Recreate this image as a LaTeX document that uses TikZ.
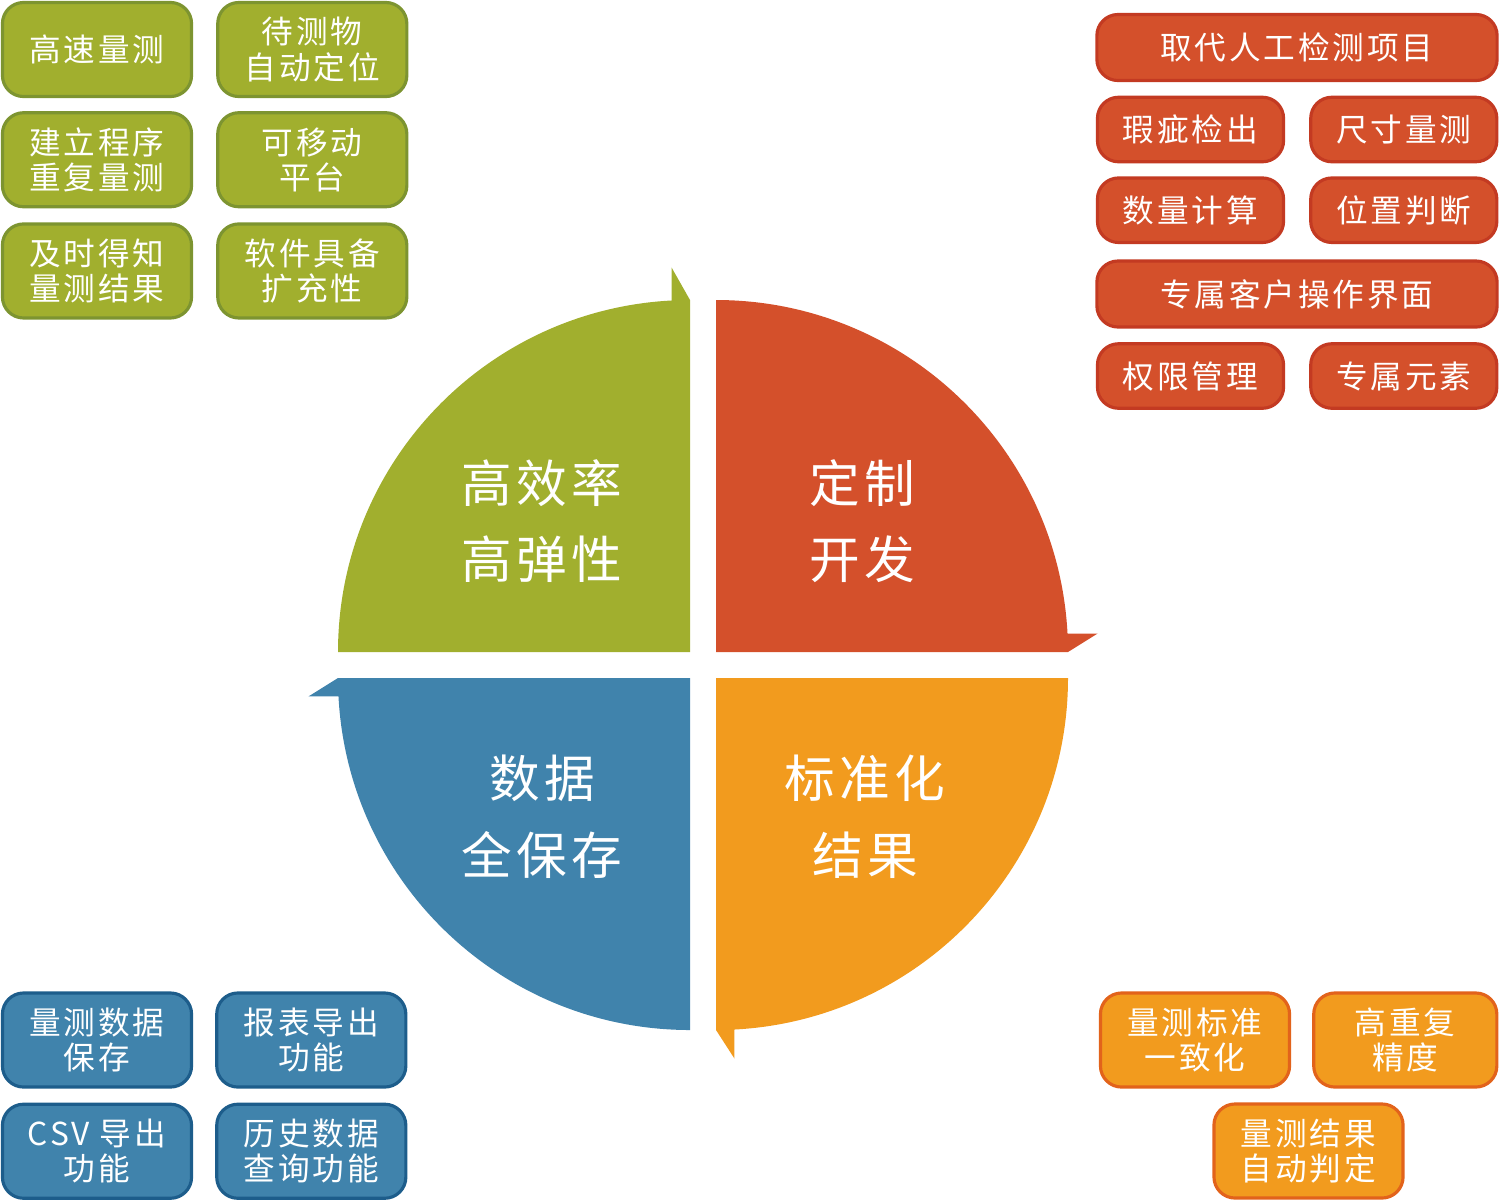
\documentclass[tikz,border=0pt]{standalone}
\usepackage{fontspec}
\setmainfont{Noto Sans CJK SC}[LetterSpace=9]
\usetikzlibrary{positioning}

\definecolor{qgreen}{HTML}{A1AF2E}
\definecolor{qgreenline}{HTML}{7D9430}
\definecolor{qred}{HTML}{D4502B}
\definecolor{qredline}{HTML}{C33A22}
\definecolor{qblue}{HTML}{4083AC}
\definecolor{qblueline}{HTML}{1D5D8B}
\definecolor{qorange}{HTML}{F29B1E}
\definecolor{qorangeline}{HTML}{E2631B}

\begin{document}
\begin{tikzpicture}[x=0.01cm, y=-0.01cm,
    box/.style={draw, line width=0.9pt, rounded corners=6pt, text=white, align=center,
      inner sep=0pt, minimum width=1.89cm, minimum height=0.94cm, font=\fontsize{9}{10}\selectfont},
    gbox/.style={box, fill=qgreen, draw=qgreenline},
    rbox/.style={box, fill=qred, draw=qredline, minimum width=1.86cm, minimum height=0.645cm},
    rwide/.style={rbox, minimum width=4.0cm, minimum height=0.66cm},
    bbox/.style={box, fill=qblue, draw=qblueline},
    obox/.style={box, fill=qorange, draw=qorangeline},
    big/.style={text=white, align=center, font=\fontsize{14.4}{21.8}\selectfont}]
    \useasboundingbox (0,0) rectangle (1500,1199);

    % quadrants
    \fill[qgreen] (690,652) -- (338,652) arc[start angle=180, end angle=267, radius=352] -- ++(0,-33) -- (690,300) -- cycle;
    \fill[qred] (716,652) -- (716,300) arc[start angle=270, end angle=357, radius=352] -- ++(30,0) -- (1068,652) -- cycle;
    \fill[qorange] (716,678) -- (1068,678) arc[start angle=0, end angle=87, radius=352] -- ++(0,29) -- (716,1030) -- cycle;
    \fill[qblue] (690,678) -- (690,1030) arc[start angle=90, end angle=177, radius=352] -- ++(-30,0) -- (338,678) -- cycle;

    \node[big] (effq) at (542,521) {高效率\\高弹性};
    \node[big] (cusq) at (862,521) {定制\\开发};
    \node[big] (datq) at (542,817) {数据\\全保存};
    \node[big] (stdq) at (865,817) {标准化\\结果};

    % green
    \node[gbox] (g1) at (97,49.5) {高速量测};
    \node[gbox, right=0.23cm of g1] (g2) {待测物\\自动定位};
    \node[gbox, below=0.13cm of g1] (g3) {建立程序\\重复量测};
    \node[gbox, right=0.23cm of g3] (g4) {可移动\\平台};
    \node[gbox, below=0.14cm of g3] (g5) {及时得知\\量测结果};
    \node[gbox, right=0.23cm of g5] (g6) {软件具备\\扩充性};

    % red
    \node[rwide] (r1) at (1297,47.5) {取代人工检测项目};
    \node[rbox] (r2) at (1190.5,129.5) {瑕疵检出};
    \node[rbox, right=0.24cm of r2] (r3) {尺寸量测};
    \node[rbox, below=0.13cm of r2] (r4) {数量计算};
    \node[rbox, right=0.24cm of r4] (r5) {位置判断};
    \node[rwide] (r6) at (1297,294) {专属客户操作界面};
    \node[rbox] (r7) at (1190.5,376) {权限管理};
    \node[rbox, right=0.24cm of r7] (r8) {专属元素};

    % blue
    \node[bbox] (b1) at (97,1040) {量测数据\\保存};
    \node[bbox, right=0.22cm of b1] (b2) {报表导出\\功能};
    \node[bbox, below=0.14cm of b1] (b3) {CSV 导出\\功能};
    \node[bbox, right=0.22cm of b3] (b4) {历史数据\\查询功能};

    % orange
    \node[obox] (o1) at (1195,1040) {量测标准\\一致化};
    \node[obox, minimum width=1.83cm, right=0.21cm of o1] (o2) {高重复\\精度};
    \node[obox] (o3) at (1308.5,1151) {量测结果\\自动判定};
\end{tikzpicture}
\end{document}
